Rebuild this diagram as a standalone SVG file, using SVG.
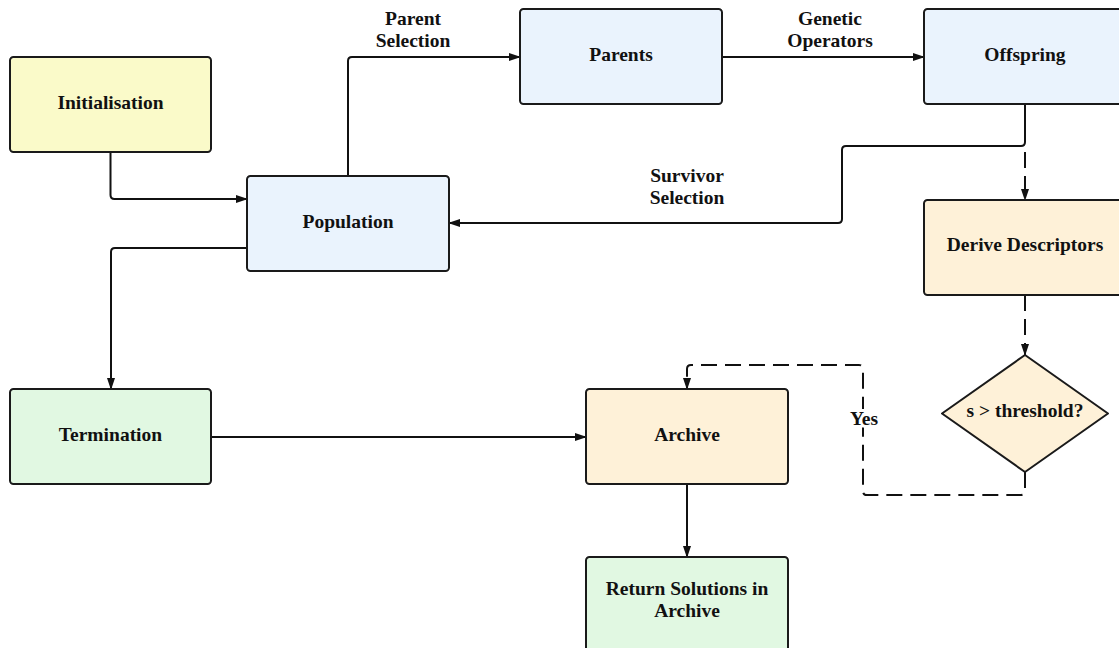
<svg xmlns="http://www.w3.org/2000/svg" width="1119" height="648" viewBox="0 0 1119 648">
  <defs>
    <style>
      .box { stroke: #1a1a1a; stroke-width: 2; }
      .yellow { fill: #fafac9; }
      .blue { fill: #eaf3fd; }
      .cream { fill: #fef1d8; }
      .green { fill: #e1f8e2; }
      .label { font-family: "Liberation Serif", "Times New Roman", serif; font-weight: bold; font-size: 19.5px; fill: #111; text-anchor: middle; }
      .edge { fill: none; stroke: #111; stroke-width: 2; stroke-linejoin: round; }
      .dash { stroke-dasharray: 16 8; }
      .halo { stroke: #fff; stroke-width: 6; paint-order: stroke; stroke-linejoin: round; }
    </style>
    <marker id="arrow" markerUnits="userSpaceOnUse" markerWidth="12" markerHeight="8" refX="11" refY="4" orient="auto">
      <path d="M0,0 L12,4 L0,8 z" fill="#111"/>
    </marker>
  </defs>

  <rect width="1119" height="648" fill="#ffffff"/>

  <!-- connectors -->
  <g id="connectors">
    <path class="edge" d="M110.5,152 V195 Q110.5,199 114.5,199 H247" marker-end="url(#arrow)"/>
    <path class="edge" d="M348,176 V61 Q348,57 352,57 H520" marker-end="url(#arrow)"/>
    <path class="edge" d="M722,57 H924" marker-end="url(#arrow)"/>
    <path class="edge" d="M1025,104 V142 Q1025,146 1021,146 H846 Q842,146 842,150 V219 Q842,223 838,223 H449" marker-end="url(#arrow)"/>
    <path class="edge dash" d="M1025,152 V200" marker-end="url(#arrow)"/>
    <path class="edge dash" d="M1025,295 V355" marker-end="url(#arrow)"/>
    <path class="edge dash" d="M1025,472 V491 Q1025,495 1021,495 H867 Q863,495 863,491 V369 Q863,365 859,365 H691 Q687,365 687,369 V389" marker-end="url(#arrow)"/>
    <path class="edge" d="M247,248 H115 Q111,248 111,252 V389" marker-end="url(#arrow)"/>
    <path class="edge" d="M211,437 H586" marker-end="url(#arrow)"/>
    <path class="edge" d="M687,484 V557" marker-end="url(#arrow)"/>

    <text class="label" x="413" y="25">Parent</text>
    <text class="label" x="413" y="47">Selection</text>
    <text class="label" x="830" y="25">Genetic</text>
    <text class="label" x="830" y="47">Operators</text>
    <text class="label" x="687" y="182">Survivor</text>
    <text class="label" x="687" y="204">Selection</text>
    <text class="label halo" x="864" y="425">Yes</text>
  </g>

  <g id="initialisation">
    <rect class="box yellow" x="10" y="57" width="201" height="95" rx="3.5"/>
    <text class="label" x="110.5" y="108.5">Initialisation</text>
  </g>

  <g id="population">
    <rect class="box blue" x="247" y="176" width="202" height="95" rx="3.5"/>
    <text class="label" x="348" y="227.5">Population</text>
  </g>

  <g id="parents">
    <rect class="box blue" x="520" y="9" width="202" height="95" rx="3.5"/>
    <text class="label" x="621" y="61">Parents</text>
  </g>

  <g id="offspring">
    <rect class="box blue" x="924" y="9" width="202" height="95" rx="3.5"/>
    <text class="label" x="1025" y="61">Offspring</text>
  </g>

  <g id="derive-descriptors">
    <rect class="box cream" x="924" y="200" width="202" height="95" rx="3.5"/>
    <text class="label" x="1025" y="251">Derive Descriptors</text>
  </g>

  <g id="threshold">
    <path class="box cream" d="M1025,355 L1108,413.5 L1025,472 L942,413.5 Z" stroke-linejoin="round"/>
    <text class="label" x="1025" y="417">s &gt; threshold?</text>
  </g>

  <g id="termination">
    <rect class="box green" x="10" y="389" width="201" height="95" rx="3.5"/>
    <text class="label" x="110.5" y="441">Termination</text>
  </g>

  <g id="archive">
    <rect class="box cream" x="586" y="389" width="202" height="95" rx="3.5"/>
    <text class="label" x="687" y="441">Archive</text>
  </g>

  <g id="return-solutions">
    <rect class="box green" x="586" y="557" width="202" height="95" rx="3.5"/>
    <text class="label" x="687" y="595">Return Solutions in</text>
    <text class="label" x="687" y="617">Archive</text>
  </g>
</svg>
